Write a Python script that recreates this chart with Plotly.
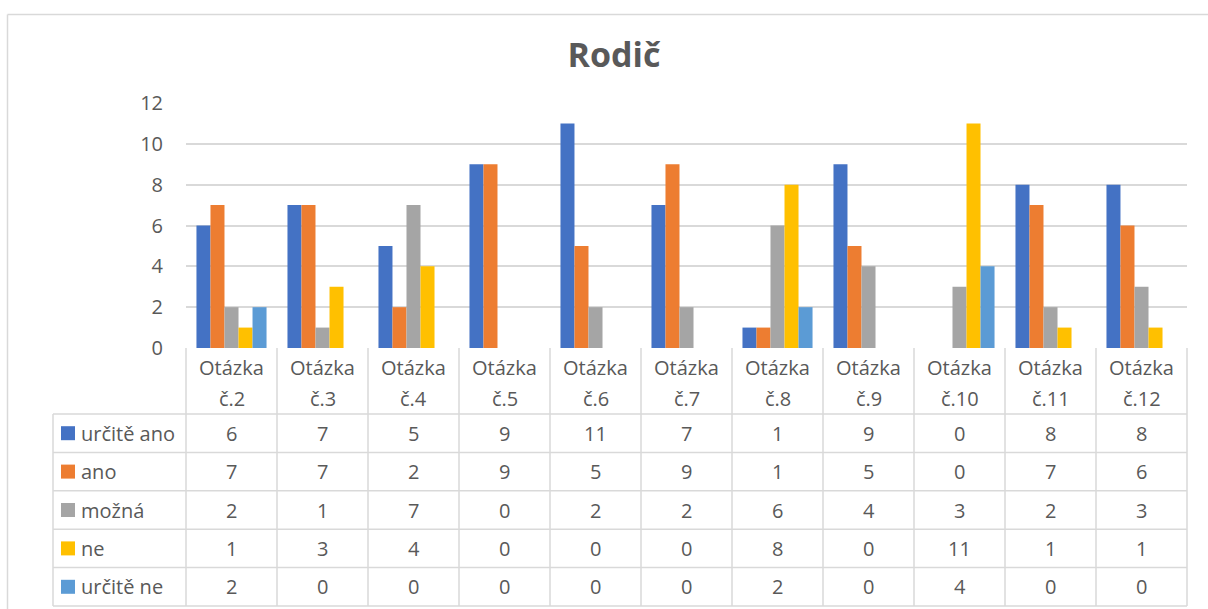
import plotly.graph_objects as go

categories = ["Otázka č.2", "Otázka č.3", "Otázka č.4", "Otázka č.5", "Otázka č.6", "Otázka č.7",
              "Otázka č.8", "Otázka č.9", "Otázka č.10", "Otázka č.11", "Otázka č.12"]
series_names = ["určitě ano", "ano", "možná", "ne", "určitě ne"]
urcite_ano = [6, 7, 5, 9, 11, 7, 1, 9, 0, 8, 8]
ano = [7, 7, 2, 9, 5, 9, 1, 5, 0, 7, 6]
mozna = [2, 1, 7, 0, 2, 2, 6, 4, 3, 2, 3]
ne = [1, 3, 4, 0, 0, 0, 8, 0, 11, 1, 1]
urcite_ne = [2, 0, 0, 0, 0, 0, 2, 0, 4, 0, 0]
y_ticks = [0, 2, 4, 6, 8, 10, 12]
title = "Rodič"

series_values = [urcite_ano, ano, mozna, ne, urcite_ne]
colors = ["#4472C4", "#ED7D31", "#A5A5A5", "#FFC000", "#5B9BD5"]

W, H = 1208, 609
L, R, T, B = 186, 1187, 103, 348
FONT = "Segoe UI, Open Sans, DejaVu Sans, sans-serif"
TXT = "#595959"
GRID = "#d9d9d9"
FS = 20


def pxx(p):
    return (p - L) / (R - L)


def pxy(p):
    return (B - p) / (B - T)


fig = go.Figure()
for name, vals, col in zip(series_names, series_values, colors):
    fig.add_trace(go.Bar(x=categories, y=vals, name=name, marker_color=col,
                         marker_line_width=0, showlegend=False))

shapes = []
annotations = []
n = len(categories)
col_w = 1.0 / n
header_bottom = 414
row_h = 38.4
legend_left = 53

# chart border (top and left)
shapes.append(dict(type="line", xref="paper", yref="paper", x0=pxx(7.5), x1=pxx(1215),
                   y0=pxy(14.5), y1=pxy(14.5), line=dict(color=GRID, width=1.5)))
shapes.append(dict(type="line", xref="paper", yref="paper", x0=pxx(7.5), x1=pxx(7.5),
                   y0=pxy(14.5), y1=pxy(620), line=dict(color=GRID, width=1.5)))

table_bottom = header_bottom + row_h * len(series_names)
for i in range(n + 1):
    shapes.append(dict(type="line", xref="paper", yref="paper", x0=i * col_w, x1=i * col_w,
                       y0=pxy(B), y1=pxy(table_bottom), line=dict(color=GRID, width=1.5)))
shapes.append(dict(type="line", xref="paper", yref="paper", x0=pxx(legend_left), x1=pxx(legend_left),
                   y0=pxy(header_bottom), y1=pxy(table_bottom), line=dict(color=GRID, width=1.5)))
for r in range(len(series_names) + 1):
    yy = header_bottom + r * row_h
    shapes.append(dict(type="line", xref="paper", yref="paper", x0=pxx(legend_left), x1=1,
                       y0=pxy(yy), y1=pxy(yy), line=dict(color=GRID, width=1.5)))

for i, cat in enumerate(categories):
    parts = cat.split(" ")
    xc = (i + 0.5) * col_w
    annotations.append(dict(text=parts[0], x=xc, y=pxy(367), xref="paper", yref="paper",
                            showarrow=False, font=dict(family=FONT, size=FS, color=TXT),
                            xanchor="center", yanchor="middle"))
    annotations.append(dict(text=parts[1], x=xc, y=pxy(398), xref="paper", yref="paper",
                            showarrow=False, font=dict(family=FONT, size=FS, color=TXT),
                            xanchor="center", yanchor="middle"))

for r, (name, vals, col) in enumerate(zip(series_names, series_values, colors)):
    yc = header_bottom + (r + 0.5) * row_h
    shapes.append(dict(type="rect", xref="paper", yref="paper", x0=pxx(61), x1=pxx(75),
                       y0=pxy(yc - 7), y1=pxy(yc + 7), fillcolor=col, line=dict(width=0)))
    annotations.append(dict(text=name, x=pxx(79), y=pxy(yc), xref="paper", yref="paper",
                            showarrow=False, font=dict(family=FONT, size=FS, color=TXT),
                            xanchor="left", yanchor="middle"))
    for i, v in enumerate(vals):
        annotations.append(dict(text=str(v), x=(i + 0.5) * col_w, y=pxy(yc), xref="paper", yref="paper",
                                showarrow=False, font=dict(family=FONT, size=FS, color=TXT),
                                xanchor="center", yanchor="middle"))

fig.update_layout(
    width=W, height=H,
    margin=dict(l=L, r=W - R, t=T, b=H - B),
    paper_bgcolor="white", plot_bgcolor="white",
    barmode="group", bargap=0.23, bargroupgap=0,
    title=dict(text="<b>" + title + "</b>", x=614 / W, xanchor="center",
               y=1 - 55 / H, yanchor="middle",
               font=dict(family=FONT, size=34, color=TXT)),
    xaxis=dict(showticklabels=False, showgrid=False, zeroline=False, showline=False, ticks=""),
    yaxis=dict(range=[0, 12], tickvals=y_ticks, showgrid=True, gridcolor=GRID, gridwidth=1.5,
               zeroline=False, showline=False, ticks="", ticklabelstandoff=22,
               tickfont=dict(family=FONT, size=FS, color=TXT)),
    shapes=shapes, annotations=annotations,
)

fig.write_html("out.html", config={"displayModeBar": False},
               post_script="document.body.style.margin='0';document.body.style.overflow='hidden';")
